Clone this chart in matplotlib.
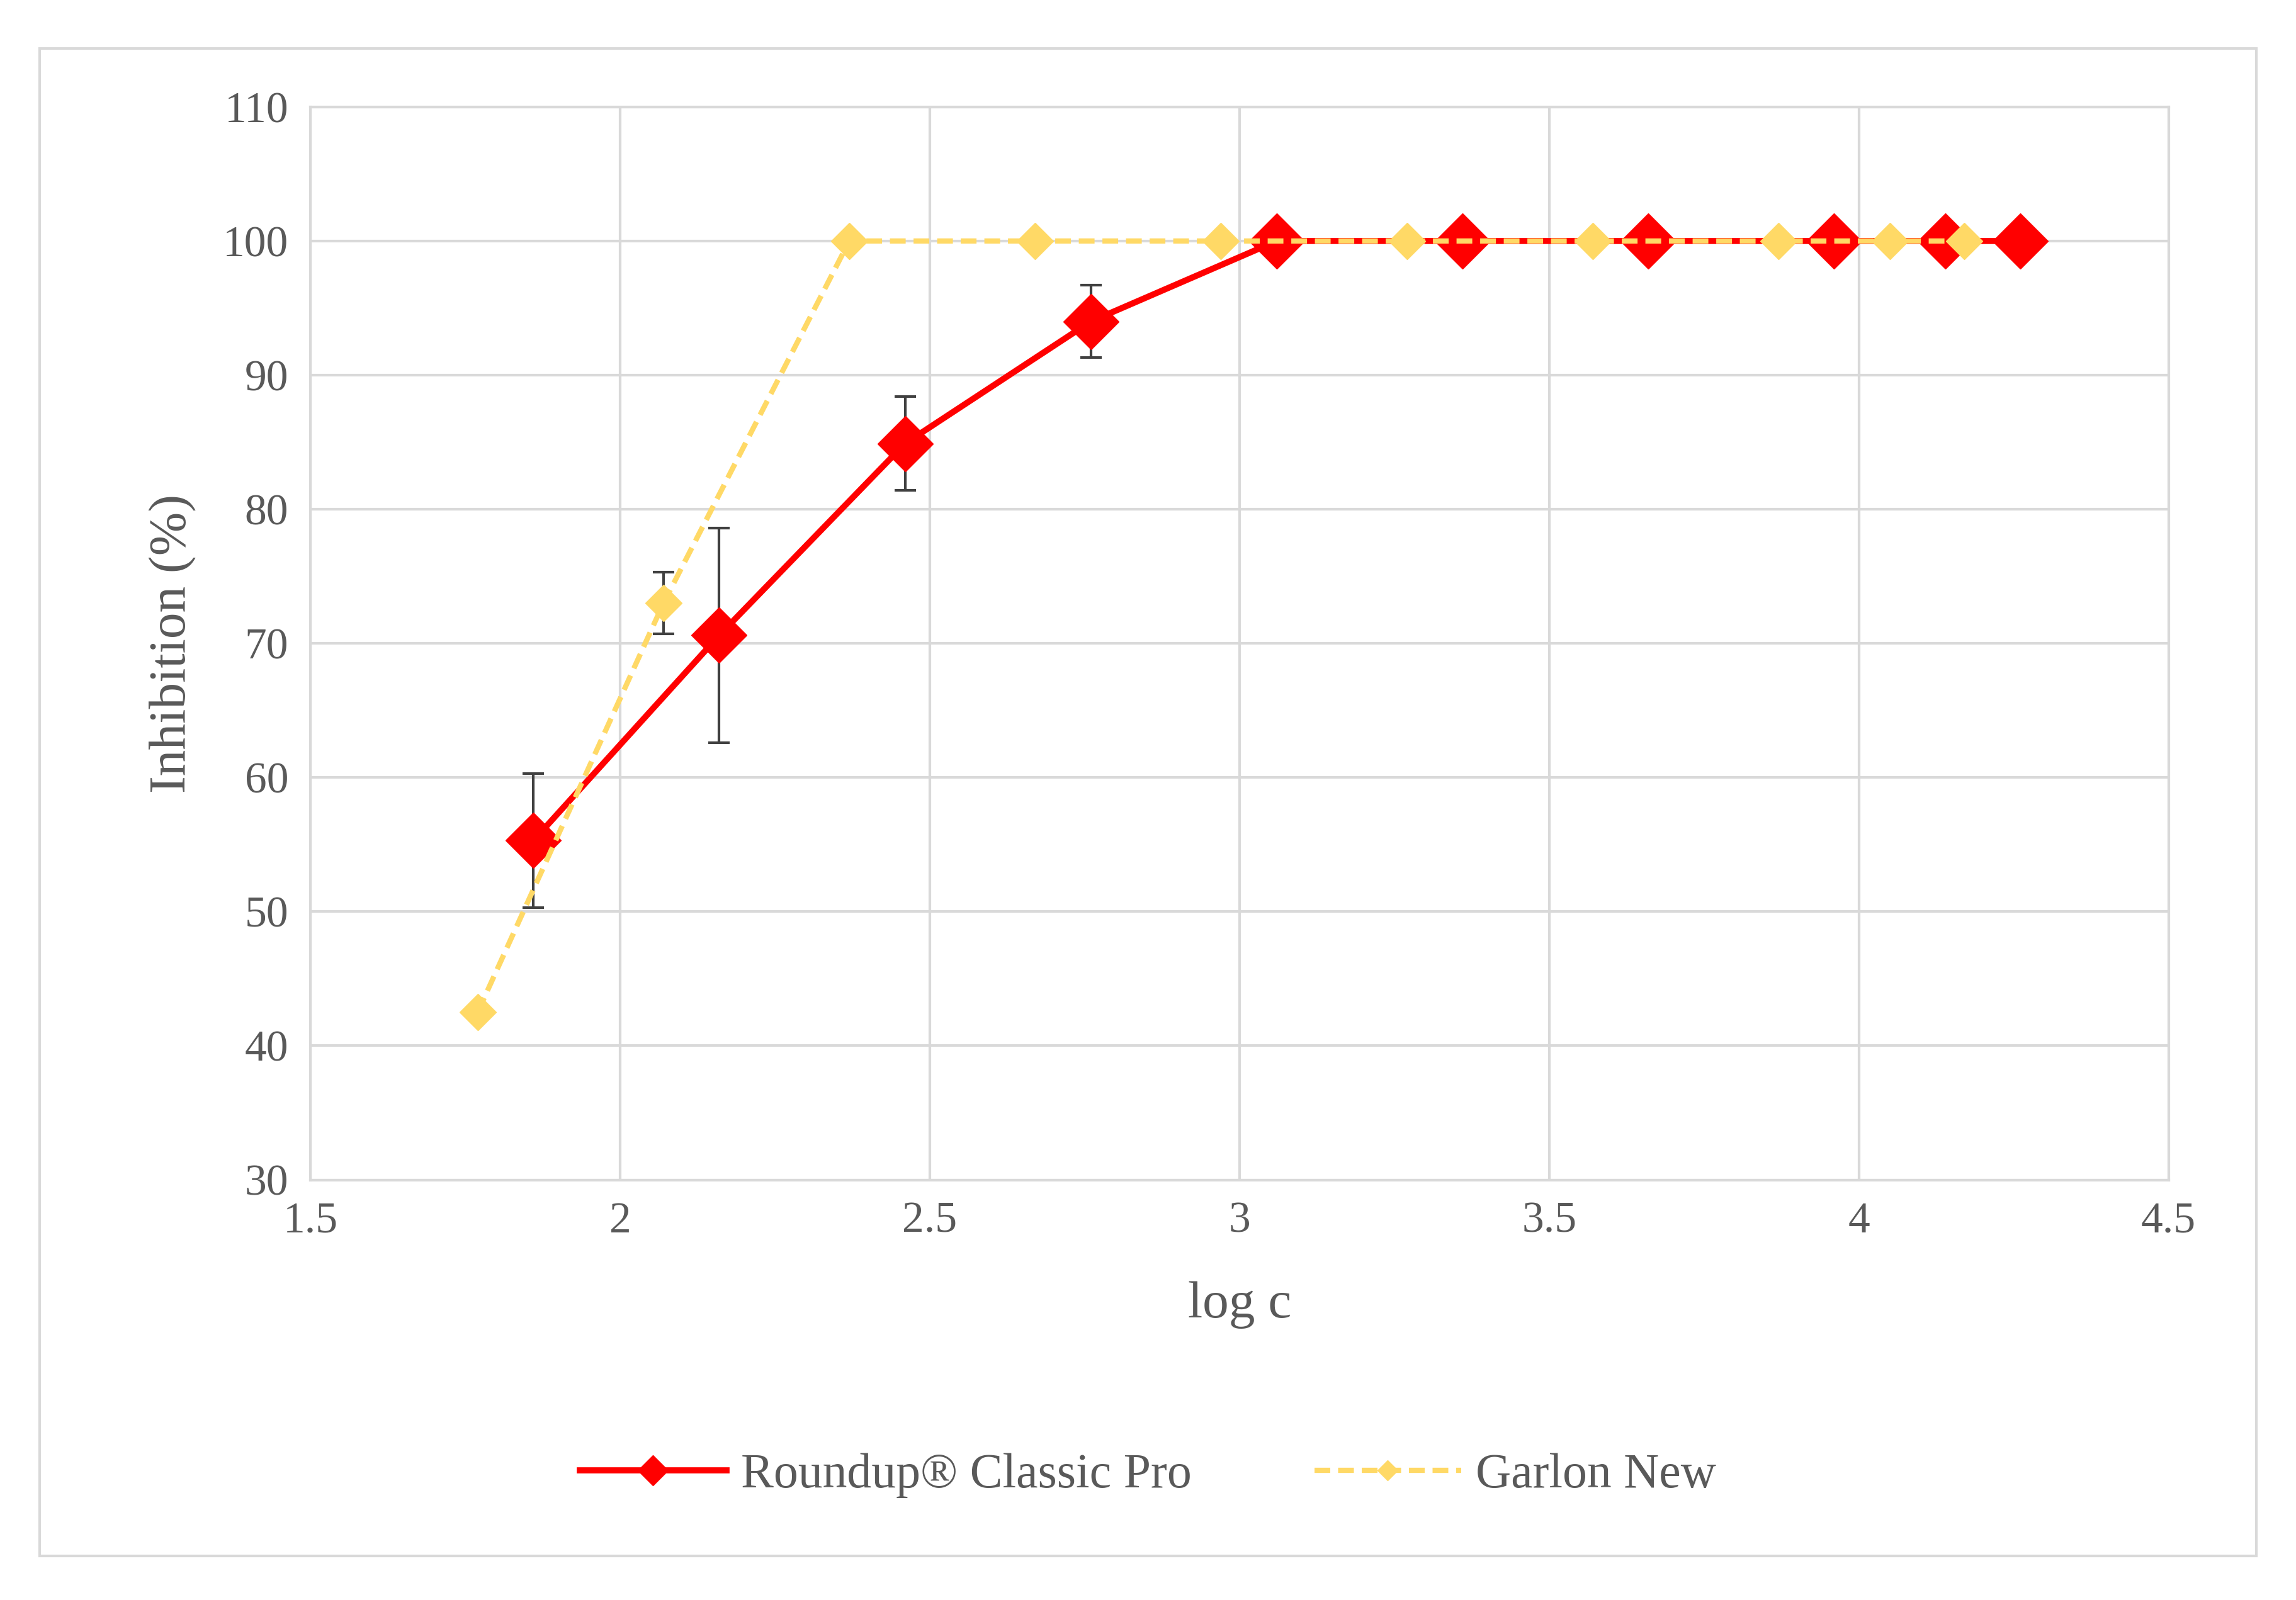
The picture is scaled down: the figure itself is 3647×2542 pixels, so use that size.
import matplotlib
matplotlib.use("Agg")
import matplotlib.pyplot as plt
from matplotlib.patches import Rectangle

rx = [1.86, 2.16, 2.46, 2.76, 3.06, 3.36, 3.66, 3.96, 4.14, 4.26]
ry = [55.3, 70.6, 84.9, 94.0, 100, 100, 100, 100, 100, 100]
rerr = [5.0, 8.0, 3.5, 2.7, 0, 0, 0, 0, 0, 0]
gx = [1.77, 2.07, 2.37, 2.67, 2.97, 3.27, 3.57, 3.87, 4.05, 4.17]
gy = [42.5, 73.0, 100, 100, 100, 100, 100, 100, 100, 100]
gerr = [0, 2.3, 0, 0, 0, 0, 0, 0, 0, 0]
xticks = [1.5, 2, 2.5, 3, 3.5, 4, 4.5]
yticks = [30, 40, 50, 60, 70, 80, 90, 100, 110]

plt.rcParams['font.family'] = ['Liberation Serif', 'DejaVu Serif']
gray = '#595959'
fig = plt.figure(figsize=(36.47, 25.42), dpi=100)
fig.patches.append(Rectangle((27/1568, 1-1063/1093), (1541-27)/1568, (1063-33)/1093,
                             transform=fig.transFigure, fill=False, ec='#d9d9d9', lw=3))
ax = fig.add_axes([212/1568, 1-806/1093, (1481-212)/1568, (806-73)/1093])
ax.set_xlim(1.5, 4.5); ax.set_ylim(30, 110)
ax.set_xticks(xticks); ax.set_xticklabels([str(t) for t in xticks])
ax.set_yticks(yticks)
ax.grid(True, color='#d9d9d9', lw=3)
ax.set_axisbelow(True)
for s in ax.spines.values():
    s.set_color('#d9d9d9'); s.set_linewidth(3)
ax.tick_params(length=0, labelsize=50, labelcolor=gray, pad=25)

ax.errorbar(gx, gy, yerr=gerr, fmt='none', ecolor='#404040', elinewidth=3, capsize=12, capthick=3, zorder=2)
ax.errorbar(rx, ry, yerr=rerr, fmt='none', ecolor='#404040', elinewidth=3, capsize=12, capthick=3, zorder=2)
ax.plot(rx, ry, color='#ff0000', lw=7, marker='D', ms=45, mec='#ff0000', mfc='#ff0000',
        label='Roundup® Classic Pro', zorder=3)
ax.plot(gx, gy, color='#ffd966', lw=6, ls=(0, (3, 1.5)), marker='D', ms=30, mec='#ffd966',
        mfc='#ffd966', label='Garlon New', zorder=4)
ax.set_xlabel('log c', fontsize=60, color=gray, labelpad=45)
ax.set_ylabel('Inhibition (%)', fontsize=60, color=gray, labelpad=30)
fig.legend(loc='center', bbox_to_anchor=(0.5, 1-1008/1093), ncol=2, frameon=False,
           fontsize=56, labelcolor=gray, markerscale=0.55, handlelength=3, handletextpad=0.3,
           columnspacing=2.5)
fig.savefig('out.png', dpi=100)
